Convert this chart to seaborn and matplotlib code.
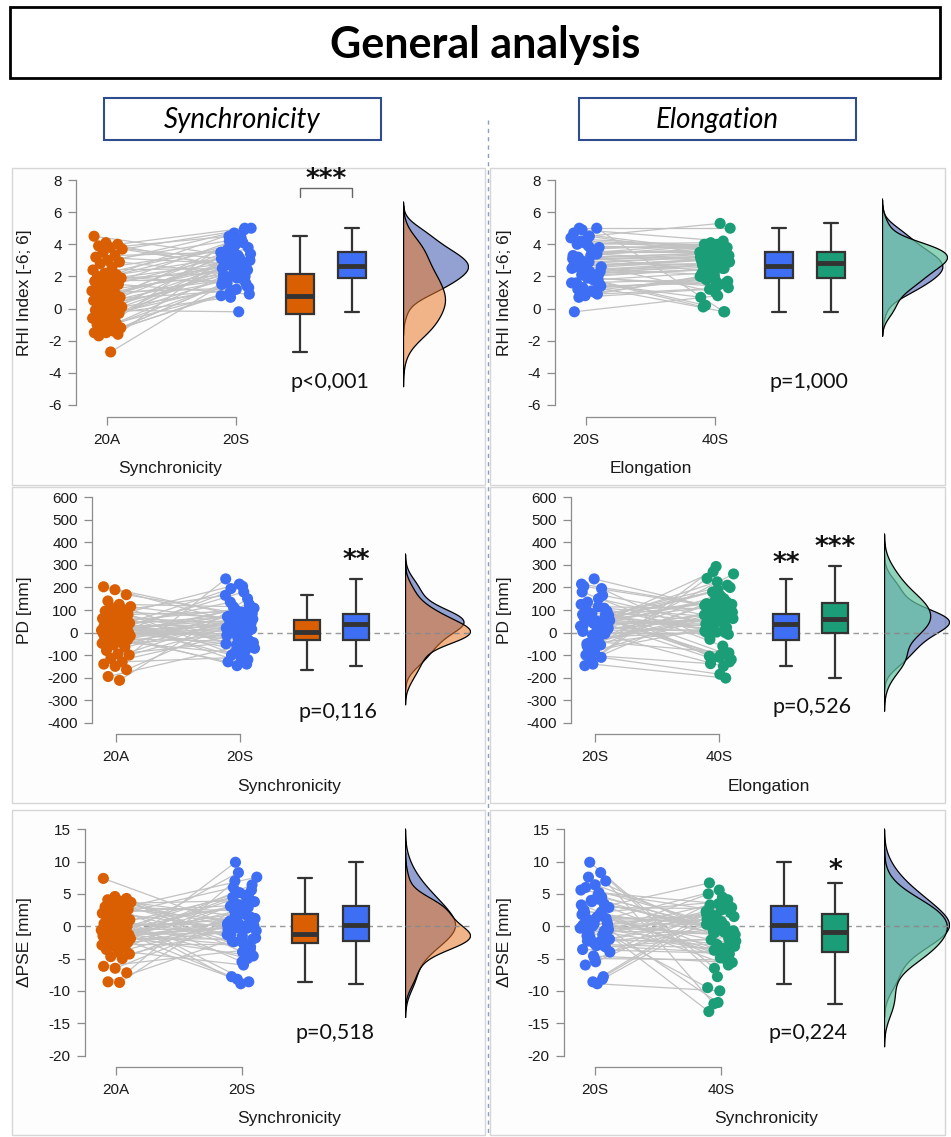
import numpy as np
import pandas as pd
import matplotlib
matplotlib.use("Agg")
import matplotlib.pyplot as plt
from matplotlib.patches import Rectangle
from matplotlib.lines import Line2D
import seaborn as sns

W, H, DPI = 951, 1137, 100

# ------------------------------------------------------------------ data
# values per participant (same participant order in every list)
rhi_20A = [-2.7, -1.7, -1.6, -1.5, -1.5, -1.4, -1.3, -1.2, -1.1, -1.0, -0.9, -0.8, -0.6, -0.5, -0.4,
           -0.3, -0.2, -0.1, 0.0, 0.0, 0.1, 0.2, 0.3, 0.4, 0.4, 0.5, 0.6, 0.7, 0.7, 0.8,
           0.8, 0.9, 1.0, 1.1, 1.2, 1.3, 1.5, 1.6, 1.7, 1.8, 1.8, 1.9, 2.0, 2.0, 2.1,
           2.2, 2.4, 2.6, 2.8, 2.9, 3.0, 3.2, 3.3, 3.5, 3.7, 3.8, 3.9, 4.0, 4.1, 4.5]
rhi_20S = [2.3, 1.2, 3.4, 0.8, 2.6, 1.9, 4.2, 1.5, 2.0, 3.0, 1.0, 2.5, 1.6, 3.3, 0.7,
           1.8, 2.8, -0.2, 3.6, 2.1, 1.4, 2.9, 4.0, 1.7, 2.4, 3.1, 1.1, 2.7, 3.8, 1.9,
           2.6, 3.5, 1.3, 4.4, 2.2, 3.2, 0.9, 2.7, 4.7, 1.8, 3.0, 2.3, 3.9, 1.6, 3.4,
           4.1, 2.5, 3.7, 5.0, 2.1, 4.3, 2.8, 3.5, 4.9, 2.6, 4.5, 3.1, 5.0, 2.4, 3.3]
rhi_40S = [2.8, 1.8, 3.7, 2.0, 3.1, 1.4, 3.9, 0.7, 2.5, 3.4, 1.9, 3.0, -0.2, 4.0, 1.2,
           2.2, 3.3, 0.8, 3.6, 2.7, 1.6, 3.2, 4.1, 0.1, 2.9, 3.5, 2.0, 3.0, 3.8, 1.5,
           3.1, 4.0, 1.7, 5.3, 2.4, 3.4, 1.3, 2.8, 3.6, 0.2, 3.3, 2.6, 3.7, 1.8, 2.9,
           3.8, 2.1, 4.0, 5.0, 2.5, 3.9, 2.8, 3.5, 4.2, 1.0, 3.4, 3.2, -0.2, 2.7, 2.3]

pd_20A = [-212, -195, -165, -150, -140, -130, -115, -100, -95, -80, -65, -55, -48, -42, -38,
          -32, -28, -25, -20, -18, -15, -12, -10, -8, -5, -4, -2, -1, 0, 0,
          2, 5, 8, 10, 14, 18, 22, 25, 30, 34, 38, 42, 46, 50, 54,
          58, 62, 68, 75, 80, 88, 95, 100, 108, 115, 125, 140, 168, 190, 203]
pd_20S = [150, -60, 40, 238, 5, -110, 63, 20, -35, 90, 48, -12, 125, 35, -90,
          70, -40, 205, 10, -130, 56, 25, 100, -5, 42, 180, -55, 73, 15, 0,
          -147, 45, 84, 28, -20, 135, 60, -80, 32, 195, -45, 76, 50, -100, 108,
          -140, 215, 38, -70, 95, -30, 66, 165, -120, 53, 115, -50, 78, 40, 80]
pd_40S = [22, 140, -115, 120, 66, -185, 180, 5, 95, -100, 270, 38, -8, 160, 72,
          128, -90, 110, 12, 240, -130, 84, 48, -2, 200, -60, 145, 28, 100, -150,
          293, 56, -120, 150, 2, -105, 125, 33, 225, -30, 90, 0, 190, -138, 62,
          -202, 115, 42, 260, -95, 170, 18, 78, 135, -110, 105, 8, 210, 52, 130]

pse_20A = [-8.7, -8.6, -7.2, -6.5, -6.2, -5.0, -4.7, -4.3, -4.0, -3.6, -3.3, -3.0, -2.9, -2.8, -2.7,
           -2.5, -2.4, -2.2, -2.1, -2.0, -1.9, -1.8, -1.7, -1.6, -1.5, -1.5, -1.4, -1.3, -1.3, -1.2,
           -1.2, -1.0, -0.8, -0.6, -0.4, -0.2, 0.0, 0.2, 0.4, 0.6, 0.8, 1.0, 1.3, 1.5, 1.8,
           1.9, 2.0, 2.2, 2.4, 2.6, 2.8, 3.0, 3.2, 3.5, 3.7, 3.9, 4.1, 4.3, 4.6, 7.4]
pse_20S = [4.2, -1.5, 7.0, 0.4, -3.6, 2.2, 9.9, -0.5, 1.4, -6.0, 3.5, 0.0, 5.6, -2.8, 1.0,
           -0.9, 6.4, 2.6, -8.2, 0.8, -2.0, 4.8, -0.2, 3.1, -4.6, 1.8, 8.3, -1.1, 0.1, -3.0,
           2.0, -7.8, 3.8, -0.3, 5.2, -2.3, 1.2, -5.0, 0.2, 4.5, -1.8, 2.9, -8.9, 6.0, -0.7,
           -8.6, 3.3, -2.4, 7.6, 0.6, -5.5, 2.4, -1.3, 4.0, -4.0, 1.6, 0.1, -3.2, -2.6, -0.1]
pse_40S = [-1.9, 2.5, -12.0, 0.3, -4.2, 3.8, -6.5, 1.1, -2.6, 4.5, -0.5, -9.5, 2.1, -3.4, 0.9,
           5.0, -1.1, -4.6, 1.6, -13.2, 2.9, -0.9, -2.8, 6.7, -5.6, 0.1, -7.8, 3.3, -1.5, -4.1,
           -11.8, 1.9, -0.7, -4.0, 3.5, -2.1, 1.5, -5.2, 5.6, -0.1, -3.1, 2.7, -10.0, 0.5, -1.3,
           4.1, -4.9, 1.3, -2.3, -6.0, 3.1, -0.9, 2.3, -4.4, 0.7, -3.7, 1.8, -1.7, -0.3, -1.0]

measures = ["RHI", "PD", "PSE"]
ylabels = ["RHI Index [-6; 6]", "PD [mm]", "\u0394PSE [mm]"]
yticks = [list(range(-6, 9, 2)), list(range(-400, 601, 100)), list(range(-20, 16, 5))]
pair_conditions = [("20A", "20S"), ("20S", "40S")]
xlabels = [["Synchronicity", "Elongation"],
           ["Synchronicity", "Elongation"],
           ["Synchronicity", "Synchronicity"]]
p_texts = [["p<0,001", "p=1,000"], ["p=0,116", "p=0,526"], ["p=0,518", "p=0,224"]]
# significance marks: (row, col, box index, text)
sig_marks = [(0, 0, "bracket", "***"), (1, 0, 1, "**"), (1, 1, 0, "**"),
             (1, 1, 1, "***"), (2, 1, 1, "*")]
column_titles = ["Synchronicity", "Elongation"]
main_title = "General analysis"

data = {
    "RHI": {"20A": rhi_20A, "20S": rhi_20S, "40S": rhi_40S},
    "PD": {"20A": pd_20A, "20S": pd_20S, "40S": pd_40S},
    "PSE": {"20A": pse_20A, "20S": pse_20S, "40S": pse_40S},
}

# ------------------------------------------------------------------ style
point_colors = {"20A": "#d95f02", "20S": "#3e6ef3", "40S": "#1b9e77"}
dens_colors = {"20A": ("#e8782a", 0.55), "20S": ("#2a46a8", 0.50), "40S": ("#66c3a2", 0.72)}
dens_order = {0: ("20S", "20A"), 1: ("20S", "40S")}

# pixel geometry per row (left column; right column shifted by DX)
rows = [
    dict(vhi=8, phi=180, vlo=-6, plo=405, xline=417, yax=76, c1=107, c2=236,
         b1=300, b2=352, vb=403, zero=False, xl_x=[170, 651], xl_y=468,
         p_xy=[(330, 382), (809, 382)], frame=(168, 485)),
    dict(vhi=600, phi=497.3, vlo=-400, plo=722.7, xline=734, yax=92, c1=116, c2=240,
         b1=307, b2=356, vb=405, zero=True, xl_x=[289, 769], xl_y=787,
         p_xy=[(338, 712), (812, 707)], frame=(487, 803)),
    dict(vhi=15, phi=829.3, vlo=-20, plo=1055.5, xline=1067, yax=85, c1=116, c2=242,
         b1=305, b2=356, vb=405, zero=True, xl_x=[289, 766], xl_y=1118,
         p_xy=[(335, 1033), (808, 1033)], frame=(810, 1135)),
]
DX = 479
star_y = {(0, 0): 175, (1, 0, 1): 556, (1, 1, 0): 559, (1, 1, 1): 543, (2, 1, 1): 866}

sns.set_theme(style="white")
plt.rcParams["font.family"] = ["Liberation Sans", "DejaVu Sans"]
plt.rcParams["axes.unicode_minus"] = False

fig = plt.figure(figsize=(W / DPI, H / DPI), dpi=DPI)
fig.patch.set_facecolor("white")


def rect(x0, y0, x1, y1):
    return [x0 / W, 1 - y1 / H, (x1 - x0) / W, (y1 - y0) / H]


def fig_rect(x0, y0, x1, y1, **kw):
    r = Rectangle((x0 / W, 1 - y1 / H), (x1 - x0) / W, (y1 - y0) / H,
                  transform=fig.transFigure, **kw)
    fig.patches.append(r)


# title and column headers
fig_rect(10, 7, 940, 78, facecolor="white", edgecolor="black", linewidth=2.0)
fig.text(485 / W, 1 - 58 / H, main_title, ha="center", va="baseline",
         family="Lato", weight="bold", fontsize=31, color="black")
for i, (bx0, bx1) in enumerate([(104, 381), (579, 856)]):
    fig_rect(bx0, 98, bx1, 140, facecolor="white", edgecolor="#2f4d8c", linewidth=1.5)
    fig.text((bx0 + bx1) / 2 / W, 1 - 128 / H, column_titles[i], ha="center",
             va="baseline", family="Lato", style="italic", fontsize=20, color="black")
fig.add_artist(Line2D([488 / W, 488 / W], [1 - 120 / H, 0], transform=fig.transFigure,
                      color="#8c9dc4", linewidth=1.0, linestyle=(0, (3, 3))))

for r, spec in enumerate(rows):
    measure = measures[r]
    for c in range(2):
        dx = DX * c
        ya, c1, c2 = spec["yax"] + dx, spec["c1"] + dx, spec["c2"] + dx
        b1, b2, vb = spec["b1"] + dx, spec["b2"] + dx, spec["vb"] + dx
        phi, plo, vhi, vlo = spec["phi"], spec["plo"], spec["vhi"], spec["vlo"]

        def xv(p):
            return 1 + (p - c1) / (c2 - c1)

        def yv(p):
            return vhi + (p - phi) * (vlo - vhi) / (plo - phi)

        # panel frame
        f0, f1 = spec["frame"]
        fx0, fx1 = (12, 485) if c == 0 else (490, 945)
        fig_rect(fx0, f0, fx1, f1, facecolor="#fdfdfd", edgecolor="#d6d6d6",
                 linewidth=1.0, zorder=-10)

        top_px = phi - 10
        ax = fig.add_axes(rect(ya, top_px, vb - 1, spec["xline"]))
        ax.patch.set_alpha(0)

        ca, cb = pair_conditions[c]
        vals_a = data[measure][ca]
        vals_b = data[measure][cb]
        n = len(vals_a)
        pid = np.arange(n)
        jit = ((pid + 1) * 0.6180339887 % 1.0 - 0.5) * 0.24
        jit2 = ((pid + 1) * 0.7548776662 % 1.0 - 0.5) * 0.24
        df = pd.DataFrame({
            "pid": np.concatenate([pid, pid]),
            "cond": [ca] * n + [cb] * n,
            "val": np.concatenate([vals_a, vals_b]).astype(float),
            "xj": np.concatenate([1 + jit, 2 + jit2]),
            "bpos": [xv(b1)] * n + [xv(b2)] * n,
        })
        pal = {ca: point_colors[ca], cb: point_colors[cb]}

        if spec["zero"]:
            ax.axhline(0, color="#9a9a9a", linewidth=1.0, linestyle=(0, (4, 3)), zorder=0.5)

        sns.lineplot(data=df, x="xj", y="val", units="pid", estimator=None, sort=False,
                     color="#c2c2c2", linewidth=0.9, ax=ax, legend=False, zorder=1)
        sns.scatterplot(data=df, x="xj", y="val", hue="cond", palette=pal, s=64,
                        linewidth=0, ax=ax, legend=False, zorder=3)
        sns.boxplot(data=df, x="bpos", y="val", hue="cond", palette=pal, native_scale=True,
                    dodge=False, width=0.52, showfliers=False, saturation=1,
                    linewidth=1.6, linecolor="#333333",
                    medianprops={"linewidth": 3.5, "color": "#333333"},
                    ax=ax, legend=False, zorder=4)

        ax.set_xlim(xv(ya), xv(vb - 1))
        ax.set_ylim(yv(spec["xline"]), yv(top_px))
        for s in ["top", "right"]:
            ax.spines[s].set_visible(False)
        for s in ["left", "bottom"]:
            ax.spines[s].set_color("#8c8c8c")
            ax.spines[s].set_linewidth(0.9)
        ax.spines["left"].set_bounds(vlo, vhi)
        ax.spines["bottom"].set_bounds(1, 2)
        ax.set_yticks(yticks[r])
        ax.set_yticklabels([str(t) for t in yticks[r]])
        ax.set_xticks([1, 2])
        ax.set_xticklabels([ca, cb])
        ax.tick_params(axis="both", direction="out", length=5.8, width=0.9,
                       color="#8c8c8c", labelsize=11, labelcolor="#1a1a1a", pad=4.5,
                       left=True, bottom=True)
        ax.tick_params(axis="x", pad=5.5)
        ax.set_xlabel("")
        ax.set_ylabel("")
        ax.grid(False)

        # axis labels
        fig.text(spec["xl_x"][c] / W, 1 - spec["xl_y"] / H, xlabels[r][c], ha="center",
                 va="center", fontsize=12.5, color="#1a1a1a")
        fig.text((25 + dx) / W, 1 - (phi + plo) / 2 / H, ylabels[r], ha="center",
                 va="center", rotation=90, fontsize=12.5, color="#1a1a1a")
        px, py = spec["p_xy"][c]
        fig.text(px / W, 1 - py / H, p_texts[r][c], ha="center", va="center",
                 family="Lato", fontsize=15.5, color="#111111")

        # half densities
        vax = fig.add_axes(rect(vb, top_px, vb + 65, spec["xline"]))
        vax.patch.set_alpha(0)
        for cond in dens_order[c]:
            col, al = dens_colors[cond]
            sns.kdeplot(y=data[measure][cond], ax=vax, fill=True, color=col, alpha=al,
                        edgecolor="black", linewidth=0.9, bw_method="silverman", cut=2.6)
        ymins, ymaxs, peak = [], [], 0
        for coll in vax.collections:
            v = coll.get_paths()[0].vertices
            ymins.append(v[:, 1].min())
            ymaxs.append(v[:, 1].max())
            peak = max(peak, v[:, 0].max())
        vax.plot([0, 0], [min(ymins), max(ymaxs)], color="black", linewidth=1.3)
        if spec["zero"]:
            vax.axhline(0, color="#8a8a8a", linewidth=1.0, linestyle=(0, (4, 3)), zorder=5)
        vax.set_xlim(0, peak)
        vax.set_ylim(ax.get_ylim())
        vax.axis("off")

        # significance marks
        for (mr, mc, which, txt) in sig_marks:
            if mr != r or mc != c:
                continue
            if which == "bracket":
                yb, yt = yv(197), yv(188)
                ax.plot([xv(b1), xv(b1), xv(b2), xv(b2)], [yb, yt, yt, yb],
                        color="#666666", linewidth=1.0, clip_on=False)
                sx, sy = (b1 + b2) / 2, star_y[(r, c)]
            else:
                sx = b1 if which == 0 else b2
                sy = star_y[(r, c, which)]
            fig.text(sx / W, 1 - (sy + 12) / H, txt, ha="center", va="baseline",
                     fontsize=19, weight="bold", color="#111111", family="DejaVu Sans")

fig.savefig("out.png", dpi=DPI, facecolor="white")
